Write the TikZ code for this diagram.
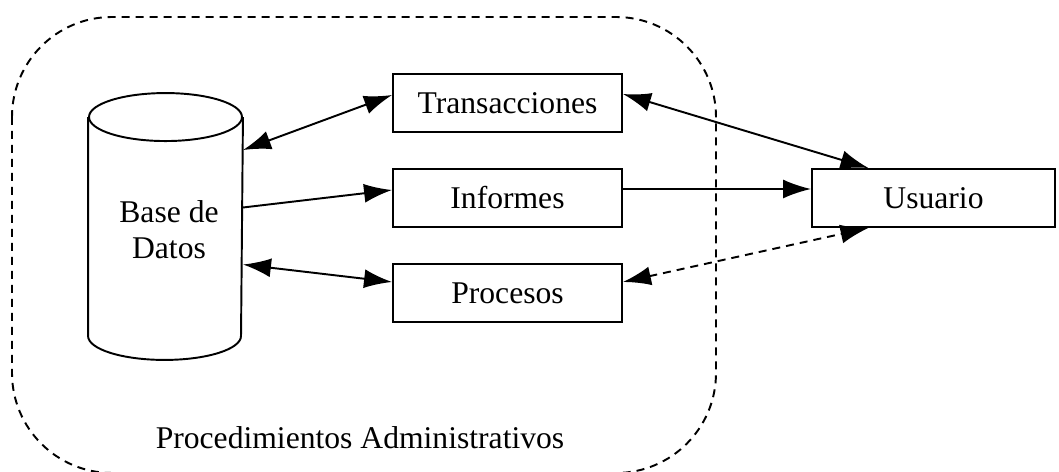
\documentclass[tikz,border=0pt]{standalone}
\usepackage{fontspec}
\setmainfont{Liberation Serif}
\usetikzlibrary{arrows.meta,calc}
\begin{document}
\begin{tikzpicture}[
        x = 0.02cm, y = -0.02cm,
        line width = 1.1pt,
        font = \fontsize{18pt}{20.5pt}\selectfont,
        tip/.style = {-{Latex[length=0.56cm, width=0.38cm]}},
        twotip/.style = {{Latex[length=0.56cm, width=0.38cm]}-{Latex[length=0.56cm, width=0.38cm]}},
        dash line/.style = {dash pattern=on 0.16cm off 0.12cm},
        box/.style = {draw, minimum width=4.58cm, minimum height=1.16cm, inner sep=0pt}]
      \useasboundingbox (0, 0) rectangle (1059, 472);
      \draw [dash line, rounded corners=2cm] (12, 17) rectangle (716, 473);
      \node (pa) at (360, 438) {Procedimientos Administrativos};
      \node (db) [minimum width=3.06cm, minimum height=4.34cm, inner sep=0pt] at (165.5, 226.5) {};
      \node (dbtext) [align=center] at (169, 230) {Base de\\Datos};
      \draw (db.north) ellipse [x radius=1.53cm, y radius=0.48cm];
      \draw (db.north west) -- (db.south west)
        arc [start angle=180, end angle=360, x radius=1.53cm, y radius=0.48cm] -- (db.north east);
      \node (tr) [box] at (507.5, 103) {Transacciones};
      \node (inf) [box] at (507.5, 198) {Informes};
      \node (pr) [box] at (507.5, 293) {Procesos};
      \node (usr) [box, minimum width=4.86cm] at (933.5, 198) {Usuario};
      \draw [twotip] ($(db.north east)+(0, 33)$) -- ($(tr.west)+(0, -8)$);
      \draw [tip] ($(db.east)+(0, -19)$) -- ($(inf.west)+(0, -8)$);
      \draw [twotip] ($(db.east)+(0, 38)$) -- ($(pr.west)+(0, -11)$);
      \draw [twotip] ($(tr.east)+(0, -9)$) -- ($(usr.north)+(-65, 0)$);
      \draw [tip] ($(inf.east)+(0, -9)$) -- ($(usr.west)+(0, -9)$);
      \draw [twotip, dash line] ($(pr.east)+(0, -11)$) -- ($(usr.south)+(-65, 0)$);
    \end{tikzpicture}
\end{document}
